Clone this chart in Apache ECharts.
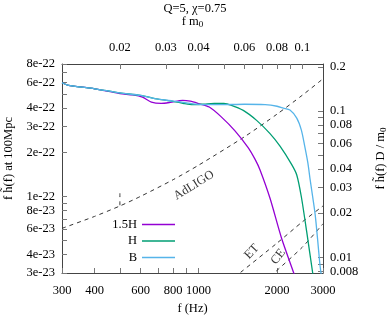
<!DOCTYPE html>
<html>
<head>
<meta charset="utf-8">
<script src="https://cdn.jsdelivr.net/npm/echarts@6/dist/echarts.min.js"></script>
<style>html,body{margin:0;padding:0;background:#fff}#chart{width:390px;height:325px}</style>
</head>
<body>
<div id="chart"></div>
<script>
// waveforms: frequency (Hz) and f*h(f) at 100 Mpc
const fPurple = [300,315,400,500,560,610,660,720,780,870,930,1000,1100,1220,1380,1550,1650,1720,1880,2080,2310,2400];
const hPurple = [5.96e-22,5.75e-22,5.42e-22,5.03e-22,4.92e-22,4.75e-22,4.4e-22,4.31e-22,4.38e-22,4.52e-22,4.46e-22,4.3e-22,4.07e-22,3.5e-22,2.8e-22,2.15e-22,1.78e-22,1.52e-22,9.7e-23,5.2e-23,3.05e-23,2.5e-23];

const fGreen = [300,315,400,500,600,700,800,880,950,1050,1150,1250,1330,1485,1670,1880,2053,2271,2380,2479,2598,2739,2790];
const hGreen = [5.96e-22,5.75e-22,5.42e-22,5.08e-22,4.88e-22,4.6e-22,4.45e-22,4.3e-22,4.22e-22,4.26e-22,4.31e-22,4.3e-22,4.2e-22,3.86e-22,3.3e-22,2.68e-22,2.2e-22,1.66e-22,1.4e-22,9.9e-23,5.74e-23,3.0e-23,2.4e-23];

const fBlue = [300,315,400,500,600,700,800,900,1000,1200,1500,1800,2000,2115,2241,2380,2479,2553,2625,2680,2800,2921,2947,3000];
const hBlue = [5.96e-22,5.75e-22,5.42e-22,5.08e-22,4.88e-22,4.6e-22,4.47e-22,4.35e-22,4.24e-22,4.22e-22,4.25e-22,4.22e-22,4.12e-22,4.0e-22,3.88e-22,3.42e-22,2.83e-22,2.2e-22,1.69e-22,1.29e-22,7.5e-23,3.4e-23,3.0e-23,2.4e-23];

// detector noise curves
const fAdLIGO = [300,400,500,600,800,1000,1500,2000,2500,3000];
const hAdLIGO = [6.05e-23,7.3e-23,8.6e-23,1.0e-22,1.3e-22,1.63e-22,2.55e-22,3.64e-22,4.9e-22,6.34e-22];
const fET = [1300,1440,2000,2500,3000];
const hET = [2.6e-23,3.0e-23,4.8e-23,6.7e-23,8.6e-23];
const fCE = [1800,1950,2500,3000];
const hCE = [2.6e-23,3.0e-23,4.5e-23,6.5e-23];
const fMark = [500,500];
const hMark = [8.7e-23,1.05e-22];

// text labels on the noise curves: [f, value, text, angle]
const curveLabels = [[961,1.19e-22,'AdLIGO',32],[1600,4.19e-23,'ET',47],[2022,3.87e-23,'CE',52]];

const seriesNames = ['1.5H','H','B'];
const seriesColors = ['#9400d3','#009e73','#56b4e9'];

// axes
const fRange = [300,3000];
const fTicks = [300,400,500,600,700,800,900,1000,2000,3000];
const fLabels = [300,400,600,800,1000,2000,3000];
const fmRange = [0.012,0.12];
const fmTicks = [0.02,0.03,0.04,0.05,0.06,0.07,0.08,0.09,0.1];
const fmLabels = [0.02,0.03,0.04,0.06,0.08,0.1];
const hRange = [3e-23,8e-22];
const hTicks = [3e-23,4e-23,5e-23,6e-23,7e-23,8e-23,9e-23,1e-22,2e-22,3e-22,4e-22,5e-22,6e-22,7e-22,8e-22];
const hLabels = [3e-23,4e-23,6e-23,8e-23,1e-22,2e-22,3e-22,4e-22,6e-22,8e-22];
const rRange = [0.0078,0.2095];
const rTicks = [0.008,0.009,0.01,0.02,0.03,0.04,0.05,0.06,0.07,0.08,0.09,0.1,0.2];
const rLabels = [0.008,0.01,0.02,0.03,0.04,0.06,0.08,0.1,0.2];

const lg = Math.log10;
function pairs(fs, hs){ return fs.map((f,i)=>[lg(f), lg(hs[i])]); }
function fmtFrom(vals, show){
    return function(v){
        let best = vals[0];
        vals.forEach(x=>{ if(Math.abs(lg(x)-v) < Math.abs(lg(best)-v)) best = x; });
        return show(best);
    };
}

const font = 'Liberation Serif';
const txt = {color:'#000', fontFamily:font, fontSize:12.5};
const axLine = {show:true, lineStyle:{color:'#444', width:1}};
function tick(vals){ return {show:true, inside:true, length:5, customValues:vals.map(lg), lineStyle:{color:'#777'}}; }

const dash = {color:'#333', width:1, type:[4,4]};

let chart = echarts.init(document.getElementById('chart'));
let series = [];
[[fPurple,hPurple],[fGreen,hGreen],[fBlue,hBlue]].forEach((d,i)=>{
    series.push({
        name: seriesNames[i], type:'line', data: pairs(d[0],d[1]),
        symbol:'none', showSymbol:false, smooth:0.25,
        lineStyle:{color:seriesColors[i], width:1.3}, itemStyle:{color:seriesColors[i]},
        z:3
    });
});
[[fAdLIGO,hAdLIGO],[fET,hET],[fCE,hCE],[fMark,hMark]].forEach(d=>{
    series.push({type:'line', data:pairs(d[0],d[1]), symbol:'none', smooth:0.25, lineStyle:dash, z:2, silent:true});
});
series.push({
    type:'scatter', symbolSize:0, silent:true,
    data: curveLabels.map(c=>({value:[lg(c[0]),lg(c[1])], label:{rotate:c[3], formatter:c[2]}})),
    label:{show:true, position:'inside', color:'#000', fontFamily:font, fontSize:12.5}
});

chart.setOption({
    animation:false,
    title:{text:'Q=5, \u03c7=0.75', left:'center', top:-3, textStyle:{color:'#000', fontFamily:font, fontSize:12.5, fontWeight:'normal'}},
    grid:{left:62, right:67, top:64, bottom:52, outerBoundsMode:'none'},
    legend:{
        data:seriesNames, orient:'vertical', align:'right', right:210, top:213,
        icon:'rect', itemWidth:33, itemHeight:1.5, itemGap:3.5,
        textStyle:{color:'#000', fontFamily:font, fontSize:12.5}
    },
    xAxis:[
        {type:'value', position:'bottom', min:lg(fRange[0]), max:lg(fRange[1]),
         name:'f (Hz)', nameLocation:'middle', nameGap:26, nameTextStyle:txt,
         axisLine:axLine, axisTick:tick(fTicks), splitLine:{show:false},
         axisLabel:Object.assign({customValues:fLabels.map(lg), margin:11, formatter:fmtFrom(fLabels,String)}, txt)},
        {type:'value', position:'top', min:lg(fmRange[0]), max:lg(fmRange[1]),
         name:'{a|f m}{s|0}', nameLocation:'middle', nameGap:35,
         nameTextStyle:{rich:{a:Object.assign({}, txt), s:{color:'#000', fontFamily:font, fontSize:9, padding:[6,0,0,0]}}},
         axisLine:axLine, axisTick:tick(fmTicks), splitLine:{show:false},
         axisLabel:Object.assign({customValues:fmLabels.map(lg), margin:10, formatter:fmtFrom(fmLabels,String)}, txt)}
    ],
    yAxis:[
        {type:'value', position:'left', min:lg(hRange[0]), max:lg(hRange[1]),
         name:'f h\u0303(f) at 100Mpc', nameLocation:'middle', nameGap:41, nameRotate:90,
         nameTextStyle:Object.assign({padding:[0,0,0,20]}, txt),
         axisLine:axLine, axisTick:tick(hTicks), splitLine:{show:false},
         axisLabel:Object.assign({customValues:hLabels.map(lg), margin:7, formatter:fmtFrom(hLabels,v=>v.toExponential(0))}, txt)},
        {type:'value', position:'right', min:lg(rRange[0]), max:lg(rRange[1]),
         name:'{a|f h\u0303(f) D / m}{s|0}', nameLocation:'middle', nameGap:50, nameRotate:90,
         nameTextStyle:{padding:[0,0,0,20], rich:{a:Object.assign({}, txt), s:{color:'#000', fontFamily:font, fontSize:9, padding:[6,0,0,0]}}},
         axisLine:axLine, axisTick:tick(rTicks), splitLine:{show:false},
         axisLabel:Object.assign({customValues:rLabels.map(lg), margin:7, formatter:fmtFrom(rLabels,String)}, txt)}
    ],
    series:series
});
</script>
</body>
</html>
